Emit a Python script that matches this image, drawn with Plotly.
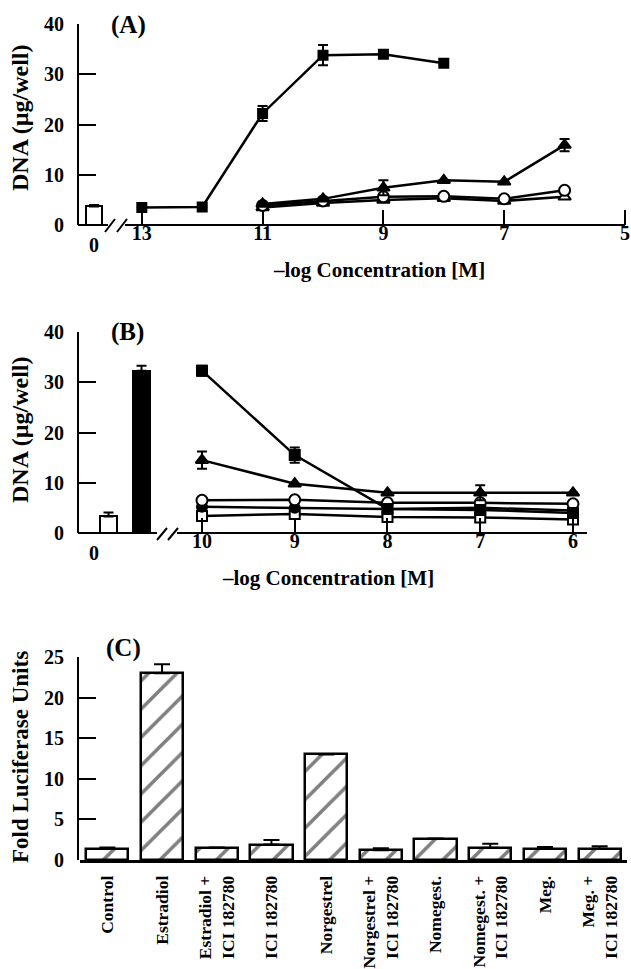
import plotly.graph_objects as go

W, H = 631, 969
FONT = "Liberation Serif"

# ---------------- Panel A data ----------------
a_ctrl_label = "0"
a_ctrl_val = [3.7]
a_ctrl_err = [0.3]
a_sq_x = [13, 12, 11, 10, 9, 8]
a_sq = [3.5, 3.6, 22.2, 33.8, 34.0, 32.2]
a_sq_err = [0, 0, 1.5, 2.0, 0.3, 0.3]
a_x = [11, 10, 9, 8, 7, 6]
a_tri = [4.2, 5.2, 7.4, 8.9, 8.6, 15.9]
a_tri_err = [0, 0, 1.5, 0, 0, 1.2]
a_circ = [3.9, 4.8, 5.6, 5.7, 5.2, 6.9]
a_otri = [3.5, 4.4, 5.0, 5.3, 4.8, 5.6]
a_ticks = [13, 11, 9, 7, 5]

# ---------------- Panel B data ----------------
b_ctrl_val = [3.3]
b_ctrl_err = [0.8]
b_e2_val = [32.3]
b_e2_err = [1.0]
b_x = [10, 9, 8, 7, 6]
b_sq = [32.3, 15.5, 4.8, 4.6, 4.0]
b_sq_err = [1.0, 1.5, 0, 0, 0]
b_tri = [14.5, 9.8, 8.0, 8.0, 8.0]
b_tri_err = [1.7, 0, 0, 1.5, 0]
b_circ = [6.5, 6.6, 6.0, 6.0, 5.8]
b_fcirc = [5.2, 5.0, 4.8, 5.0, 4.5]
b_osq = [3.4, 3.8, 3.2, 3.1, 2.7]
b_ticks = [10, 9, 8, 7, 6]

# ---------------- Panel C data ----------------
c_labels = ["Control", "Estradiol", "Estradiol +<br>ICI 182780", "ICI 182780",
            "Norgestrel", "Norgestrel +<br>ICI 182780", "Nomegest.",
            "Nomegest. +<br>ICI 182780", "Meg.", "Meg. +<br>ICI 182780"]
c_vals = [1.4, 23.0, 1.5, 1.9, 13.0, 1.2, 2.6, 1.5, 1.4, 1.4]
c_err = [0.15, 1.1, 0.05, 0.55, 0.05, 0.25, 0.05, 0.5, 0.2, 0.3]

# ---------------- geometry helpers ----------------
def px(x):
    return x / W

def py(y):
    return 1 - y / H

A_X0, A_X1, A_Y0, A_Y1 = 79, 628, 24, 225
a_range = [14.04, 4.95]
a_ctrl_pos = 13.79
B_X0, B_X1, B_Y0, B_Y1 = 79, 587, 332, 533
b_range = [11.326, 5.849]
b_ctrl_pos = 11.008
b_e2_pos = 10.652
C_X0, C_X1, C_Y0, C_Y1 = 80, 627, 657, 860

fig = go.Figure()

LW = 2.5
err_style = dict(type="data", thickness=2, width=5, color="black")

def line_trace(x, y, xa, ya, symbol, fill, err=None, size=10):
    t = go.Scatter(
        x=x, y=y, xaxis=xa, yaxis=ya, mode="lines+markers",
        line=dict(color="black", width=LW),
        marker=dict(symbol=symbol, size=size, color=fill,
                    line=dict(color="black", width=2)),
        showlegend=False, cliponaxis=False,
    )
    if err is not None:
        t.error_y = dict(array=err, **err_style)
    return t

# Panel A
fig.add_trace(go.Bar(x=[a_ctrl_pos], y=a_ctrl_val, width=0.265, xaxis="x", yaxis="y",
                     marker=dict(color="white", line=dict(color="black", width=2)),
                     error_y=dict(array=a_ctrl_err, arrayminus=[0], symmetric=False, **err_style),
                     showlegend=False))
fig.add_trace(line_trace(a_x, a_otri, "x", "y", "triangle-up", "white", size=11))
fig.add_trace(line_trace(a_x, a_circ, "x", "y", "circle", "white", size=11))
fig.add_trace(line_trace(a_x, a_tri, "x", "y", "triangle-up", "black", a_tri_err, size=11))
fig.add_trace(line_trace(a_sq_x, a_sq, "x", "y", "square", "black", a_sq_err, size=9))

# Panel B
fig.add_trace(go.Bar(x=[b_ctrl_pos], y=b_ctrl_val, width=0.183, xaxis="x2", yaxis="y2",
                     marker=dict(color="white", line=dict(color="black", width=2)),
                     error_y=dict(array=b_ctrl_err, arrayminus=[0], symmetric=False, **err_style),
                     showlegend=False))
fig.add_trace(go.Bar(x=[b_e2_pos], y=b_e2_val, width=0.183, xaxis="x2", yaxis="y2",
                     marker=dict(color="black", line=dict(color="black", width=2)),
                     error_y=dict(array=b_e2_err, arrayminus=[0], symmetric=False, **err_style),
                     showlegend=False))
fig.add_trace(line_trace(b_x, b_osq, "x2", "y2", "square", "white", size=10))
fig.add_trace(line_trace(b_x, b_fcirc, "x2", "y2", "circle", "black", size=10))
fig.add_trace(line_trace(b_x, b_circ, "x2", "y2", "circle", "white", size=11))
fig.add_trace(line_trace(b_x, b_tri, "x2", "y2", "triangle-up", "black", b_tri_err, size=11))
fig.add_trace(line_trace(b_x, b_sq, "x2", "y2", "square", "black", b_sq_err, size=10))

# Panel C
fig.add_trace(go.Bar(
    x=c_labels, y=c_vals, xaxis="x3", yaxis="y3", width=0.77,
    marker=dict(color="white", line=dict(color="black", width=2.5),
                pattern=dict(shape="/", size=20, solidity=0.18, fgcolor="black", bgcolor="white")),
    error_y=dict(array=c_err, arrayminus=[0] * len(c_err), symmetric=False,
                 type="data", thickness=2, width=8, color="black"),
    showlegend=False))

tickfont = dict(family=FONT, size=20, color="black", weight="bold")

def yax(y0, y1, rng, dt):
    return dict(domain=[py(y1), py(y0)], range=rng, dtick=dt, tick0=0,
                showline=True, linecolor="black", linewidth=2,
                ticks="inside", ticklen=17, tickwidth=2, tickcolor="black",
                showgrid=False, zeroline=False, tickfont=tickfont,
                ticklabelstandoff=9, automargin=False)

def xax(x0, x1, rng, tv, anchor):
    return dict(domain=[px(x0), px(x1)], range=rng, tickvals=tv,
                ticktext=[str(v) for v in tv], anchor=anchor,
                showline=False, ticks="inside", ticklen=15, tickwidth=2,
                tickcolor="black", showgrid=False, zeroline=False,
                tickfont=tickfont, ticklabelstandoff=-6,
                ticklabeloverflow="allow", automargin=False)

fig.update_layout(
    width=W, height=H, margin=dict(l=0, r=0, t=0, b=0, autoexpand=False),
    paper_bgcolor="white", plot_bgcolor="white",
    bargap=0,
    xaxis=xax(A_X0, A_X1, a_range, a_ticks, "y"),
    yaxis=yax(A_Y0, A_Y1, [0, 40], 10),
    xaxis2=xax(B_X0, B_X1, b_range, b_ticks, "y2"),
    yaxis2=yax(B_Y0, B_Y1, [0, 40], 10),
    xaxis3=dict(domain=[px(C_X0), px(C_X1)], anchor="y3", range=[-0.5, 9.5],
                showline=True, linecolor="black", linewidth=2.5, ticks="",
                tickangle=-90, tickfont=dict(family=FONT, size=17.5, color="black", weight="bold"),
                showgrid=False, zeroline=False, ticklabelstandoff=6, automargin=False),
    yaxis3=yax(C_Y0, C_Y1, [0, 25], 5),
)

def seg(x0, y0, x1, y1, w=2):
    fig.add_shape(type="line", xref="paper", yref="paper",
                  x0=px(x0), y0=py(y0), x1=px(x1), y1=py(y1),
                  line=dict(color="black", width=w))

seg(78, A_Y1, 108, A_Y1)
seg(125, A_Y1, 625, A_Y1)
seg(105, 232, 115, 219)
seg(117, 232, 127, 219)
fig.add_shape(type="line", xref="x", yref="paper", x0=5, x1=5,
              y0=py(A_Y1), y1=py(A_Y1 - 15), line=dict(color="black", width=2))

seg(78, B_Y1, 157, B_Y1)
seg(177, B_Y1, B_X1, B_Y1)
seg(157, 540, 167, 528)
seg(168, 540, 178, 528)

def ann(text, x, y, size=22, angle=0, xanchor="center", yanchor="middle"):
    fig.add_annotation(text=text, xref="paper", yref="paper", x=px(x), y=py(y),
                       showarrow=False, textangle=angle, xanchor=xanchor, yanchor=yanchor,
                       font=dict(family=FONT, size=size, color="black", weight="bold"))

ann(a_ctrl_label, 94, 245, size=20)
ann("0", 94, 553, size=20)

ann("(A)", 128, 25, size=25)
ann("(B)", 127, 332, size=25)
ann("(C)", 123, 648, size=25)

ann("DNA (µg/well)", 20, 118, size=24, angle=-90)
ann("DNA (µg/well)", 20, 430, size=24, angle=-90)
ann("Fold Luciferase Units", 20, 757, size=23, angle=-90)

ann("\u2013log Concentration [M]", 379, 270, size=21)
ann("\u2013log Concentration [M]", 328, 578, size=21)

fig.write_html("out.html", config={"displayModeBar": False},
               post_script="document.body.style.margin='0px';document.body.style.padding='0px';")
